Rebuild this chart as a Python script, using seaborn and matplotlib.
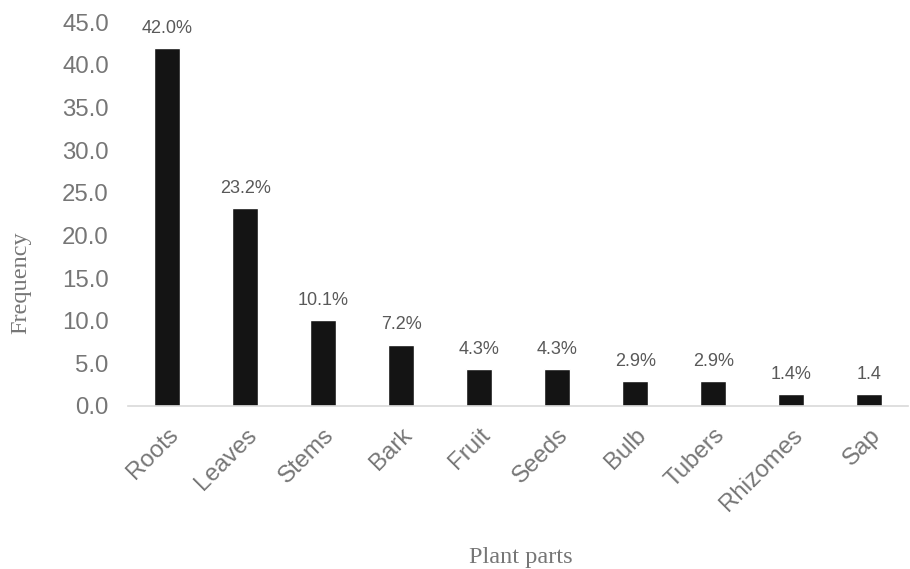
import matplotlib
matplotlib.use("Agg")
import matplotlib.pyplot as plt
import seaborn as sns
import pandas as pd

parts = ["Roots", "Leaves", "Stems", "Bark", "Fruit", "Seeds", "Bulb", "Tubers", "Rhizomes", "Sap"]
frequency = [42.0, 23.2, 10.1, 7.2, 4.3, 4.3, 2.9, 2.9, 1.4, 1.4]
value_labels = ["42.0%", "23.2%", "10.1%", "7.2%", "4.3%", "4.3%", "2.9%", "2.9%", "1.4%", "1.4"]
y_ticks = [0, 5, 10, 15, 20, 25, 30, 35, 40, 45]

sns.set_theme(style="white")
plt.rcParams["font.family"] = ["Liberation Sans", "DejaVu Sans"]

df = pd.DataFrame({"part": parts, "freq": frequency})

fig = plt.figure(figsize=(9.1, 5.69), dpi=100)
ax = fig.add_axes([0.141, 0.2865, 0.857, 0.6745])

sns.barplot(data=df, x="part", y="freq", color="#141414", width=0.33,
            saturation=1, ax=ax)

ax.set_ylim(0, 45)
ax.set_xlim(-0.5, len(parts) - 0.5)
ax.set_yticks(y_ticks)
ax.set_yticklabels([f"{v:.1f}" for v in y_ticks], fontsize=17.3, color="#767676")
ax.tick_params(axis="y", length=0, pad=14)
ax.tick_params(axis="x", length=0, pad=13)
plt.setp(ax.get_xticklabels(), rotation=45, ha="right", rotation_mode="anchor",
         fontsize=17.3, color="#767676")

for s in ["top", "right", "left"]:
    ax.spines[s].set_visible(False)
ax.spines["bottom"].set_color("#d9d9d9")
ax.spines["bottom"].set_linewidth(1.2)

for i, (v, lab) in enumerate(zip(frequency, value_labels)):
    ax.annotate(lab, (i, v), xytext=(0, 8), textcoords="offset points",
                ha="center", va="bottom", fontsize=13, color="#595959")

ax.set_xlabel("")
ax.set_ylabel("")
fig.text(0.023, 0.504, "Frequency", rotation=90, ha="center", va="center",
         fontsize=17.5, color="#767676", family=["Liberation Serif", "DejaVu Serif"])
fig.text(0.572, 0.021, "Plant parts", ha="center", va="center",
         fontsize=17.5, color="#767676", family=["Liberation Serif", "DejaVu Serif"])

fig.savefig("out.png", dpi=100)
